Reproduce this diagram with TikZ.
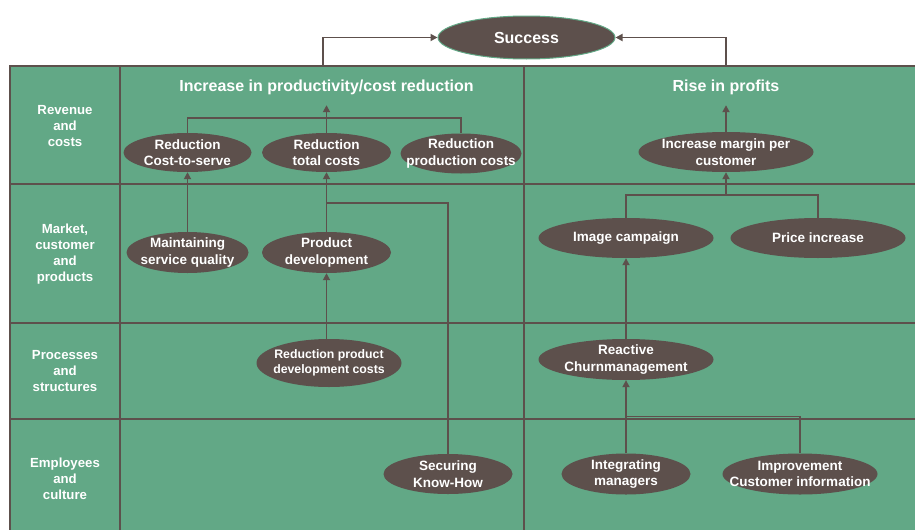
\documentclass[tikz,border=0pt]{standalone}
\usepackage{fontspec}
\setmainfont{Liberation Sans}
\usetikzlibrary{shapes.geometric,arrows.meta}
\definecolor{tgreen}{HTML}{62A886}
\definecolor{tbrown}{HTML}{5D504C}
\begin{document}
\begin{tikzpicture}[x=1pt,y=-1pt,
  oval/.style={ellipse, fill=tbrown, draw=none, inner sep=0pt},
  lbl/.style={text=white, font=\fontsize{13.5}{16.5}\selectfont\bfseries, align=center, inner sep=0pt},
  smalllbl/.style={lbl, font=\fontsize{12.3}{15}\selectfont\bfseries},
  rowlbl/.style={text=white, font=\fontsize{13.2}{16}\selectfont\bfseries, align=center, inner sep=0pt},
  ttl/.style={text=white, font=\fontsize{16}{19}\selectfont\bfseries, inner sep=0pt, minimum height=36pt},
  con/.style={draw=tbrown, line width=1.8pt},
  arr/.style={con, -{Triangle[length=7pt,width=7pt]}}]
\useasboundingbox (0,0) rectangle (915,530);
% table
\fill[tgreen] (10,66) rectangle (915,530);
\draw[con] (915,66) -- (10,66) -- (10,530);
\draw[con] (10,184) -- (915,184);
\draw[con] (10,323) -- (915,323);
\draw[con] (10,419) -- (915,419);
\draw[con] (120,66) -- (120,530);
\draw[con] (524,66) -- (524,530);
% row labels
\node[rowlbl] (r1) at (65,126) {Revenue\\and\\costs};
\node[rowlbl] (r2) at (65,254) {Market,\\customer\\and\\products};
\node[rowlbl] (r3) at (65,371) {Processes\\and\\structures};
\node[rowlbl] (r4) at (65,479) {Employees\\and\\culture};
% titles
\node[ttl] (t1) at (326.5,87) {Increase in productivity/cost reduction};
\node[ttl] (t2) at (726,87) {Rise in profits};
% success
\node[oval, draw=tgreen, line width=1pt, minimum width=177pt, minimum height=43pt] (succ) at (526.5,37.5) {};
\node[lbl, font=\fontsize{16}{19}\selectfont\bfseries] at (succ) {Success};
\coordinate (tl) at (323,66);
\coordinate (tr) at (726,66);
\draw[arr] (tl) |- (succ.west);
\draw[arr] (tr) |- (succ.east);
% left block ellipses
\node[oval, minimum width=128pt, minimum height=39pt] (rcs) at (187.5,152.5) {};
\node[lbl] at (rcs) {Reduction\\Cost-to-serve};
\node[oval, minimum width=129pt, minimum height=39pt] (rtc) at (326.5,152.5) {};
\node[lbl] at (rtc) {Reduction\\total costs};
\node[oval, minimum width=121pt, minimum height=40pt] (rpc) at (461,153.5) {};
\node[lbl] at (rpc) {Reduction\\production costs};
\node[oval, minimum width=122pt, minimum height=41pt] (msq) at (187.5,252.5) {};
\node[lbl] at (msq) {Maintaining\\service quality};
\node[oval, minimum width=129pt, minimum height=41pt] (pd) at (326.5,252.5) {};
\node[lbl] at (pd) {Product\\development};
\node[oval, minimum width=145pt, minimum height=48pt] (rpdc) at (329,363) {};
\node[smalllbl] at (rpdc) {Reduction product\\development costs};
\node[oval, minimum width=129pt, minimum height=40pt] (skh) at (448,474) {};
\node[lbl] at (skh) {Securing\\Know-How};
% right block ellipses
\node[oval, minimum width=175pt, minimum height=40pt] (im) at (726,152) {};
\node[lbl] at (im) {Increase margin per\\customer};
\node[oval, minimum width=175pt, minimum height=40pt] (ic) at (626,238) {};
\node[lbl] at (ic) {Image campaign};
\node[oval, minimum width=175pt, minimum height=40pt] (pi) at (818,238) {};
\node[lbl] at (pi) {Price increase};
\node[oval, minimum width=175pt, minimum height=41pt] (rc) at (626,359.5) {};
\node[lbl] at (rc) {Reactive\\Churnmanagement};
\node[oval, minimum width=129pt, minimum height=41pt] (ig) at (626,474) {};
\node[lbl] at (ig) {Integrating\\managers};
\node[oval, minimum width=155pt, minimum height=41pt] (imp) at (800,474) {};
\node[lbl] at (imp) {Improvement\\Customer information};
% connectors left
\coordinate (j1) at (326.5,118);
\draw[con] (rcs.north) |- (j1) -| (rpc.north);
\draw[con] (rtc.north) -- (j1);
\draw[arr] (j1) -- (t1.south);
\draw[arr] (msq.north) -- (rcs.south);
\draw[arr] (pd.north) -- (rtc.south);
\coordinate (j2) at (326.5,203);
\draw[con] (skh.north) |- (j2);
\draw[arr] (rpdc.north -| pd.south) -- (pd.south);
% connectors right
\draw[arr] (im.north) -- (t2.south);
\coordinate (j3) at (726,195);
\draw[con] (ic.north) |- (j3) -| (pi.north);
\draw[arr] (j3) -- (im.south);
\draw[arr] (rc.north) -- (ic.south);
\draw[arr] (ig.north) -- (rc.south);
\coordinate (j4) at (626,416.5);
\draw[con] (imp.north) |- (j4);
\end{tikzpicture}
\end{document}
